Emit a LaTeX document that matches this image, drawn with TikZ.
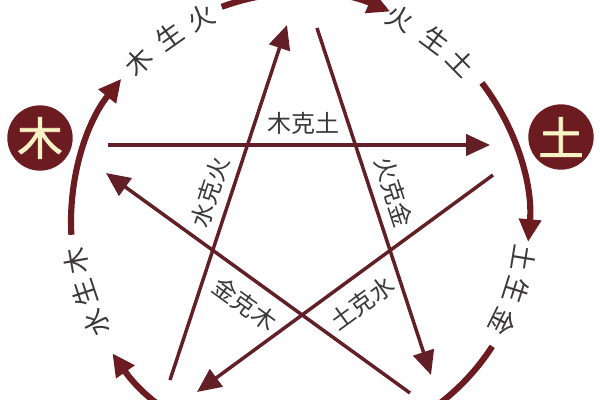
\documentclass[tikz,border=0pt]{standalone}
\usepackage{fontspec}
\newfontfamily\cjk{Noto Sans CJK SC}
\newfontfamily\cjkcu[FakeBold=1.8]{Noto Sans CJK SC}
\usetikzlibrary{arrows.meta}
\definecolor{zhuhong}{RGB}{108,28,33}
\definecolor{xianse}{RGB}{98,31,37}
\definecolor{mohui}{RGB}{58,56,56}
\definecolor{mihuang}{RGB}{248,242,196}
\tikzset{
  kexian/.style={draw=xianse, line width=2.6pt, -{Triangle[length=18pt,width=16pt]}},
  shenghu/.style={draw=zhuhong, line width=4.6pt, -{Triangle[length=17pt,width=16pt]}},
  wuxing/.style={circle, fill=zhuhong, minimum size=49pt, inner sep=0pt, text=mihuang, font=\cjkcu\fontsize{34}{34}\selectfont},
  ketext/.style={inner sep=0.75pt, text=mohui, font=\cjk\fontsize{18}{18}\selectfont},
  hutext/.style={inner sep=0.75pt, text=mohui, font=\cjk\fontsize{20}{20}\selectfont}
}

\begin{document}
\begin{tikzpicture}[x=0.75pt,y=0.75pt,yscale=-1,xscale=1]
\useasboundingbox (0,0) rectangle (600,400);
\clip (0,0) rectangle (600,400);
\fill[white] (0,0) rectangle (600,400);

\coordinate (yuan) at (300,222);
%Curve Lines: sheng cycle on the circle
\draw[shenghu] (yuan) ++(-183.2:229) arc[start angle=-183.2, end angle=-141.3, radius=229];
\draw[shenghu] (yuan) ++(-110:229) arc[start angle=-110, end angle=-66.8, radius=229];
\draw[shenghu] (yuan) ++(-37.4:229) arc[start angle=-37.4, end angle=5, radius=229];
\draw[shenghu] (yuan) ++(32.9:229) arc[start angle=32.9, end angle=145, radius=229];

% Text Node: sheng labels along the circle
\foreach \a/\z [count=\n] in {135.2/木,125.1/生,115.9/火,63.8/火,53.4/生,44.6/土,-9.3/土,-17.6/生,-26.3/金,206.3/水,198.3/生,189.9/木}
  \node[hutext, rotate=\a-90] (sheng\n) at ({300+227*cos(\a)},{222-227*sin(\a)}) {\z};

%Shape: Circle
\node[wuxing] (mu) at (40,138) {木};
%Shape: Circle
\node[wuxing] (tu) at (561,137) {土};

%Straight Lines: ke star
\coordinate (huo1) at (287,25);
\coordinate (huo2) at (317,28);
\coordinate (mu1) at (108,145);
\coordinate (mu2) at (106,173);
\coordinate (tu1) at (490,145);
\coordinate (tu2) at (493,175);
\coordinate (jin1) at (431,375);
\coordinate (jin2) at (410,393);
\coordinate (shui1) at (197,392);
\coordinate (shui2) at (170,380);
\draw[kexian] (mu1) -- (tu1);
\draw[kexian] (huo2) -- (jin1);
\draw[kexian] (tu2) -- (shui1);
\draw[kexian] (shui2) -- (huo1);
\draw[kexian] (jin2) -- (mu2);

% Text Node
\node[ketext] (muketu) at (303,123) {木克土};
% Text Node
\node[ketext, rotate=-72] (huokejin) at (394,192) {火克金};
% Text Node
\node[ketext, rotate=72] (shuikehuo) at (210,192) {水克火};
% Text Node
\node[ketext, rotate=-36] (jinkemu) at (245,304) {金克木};
% Text Node
\node[ketext, rotate=36] (tukeshui) at (362,303) {土克水};
\end{tikzpicture}
\end{document}
